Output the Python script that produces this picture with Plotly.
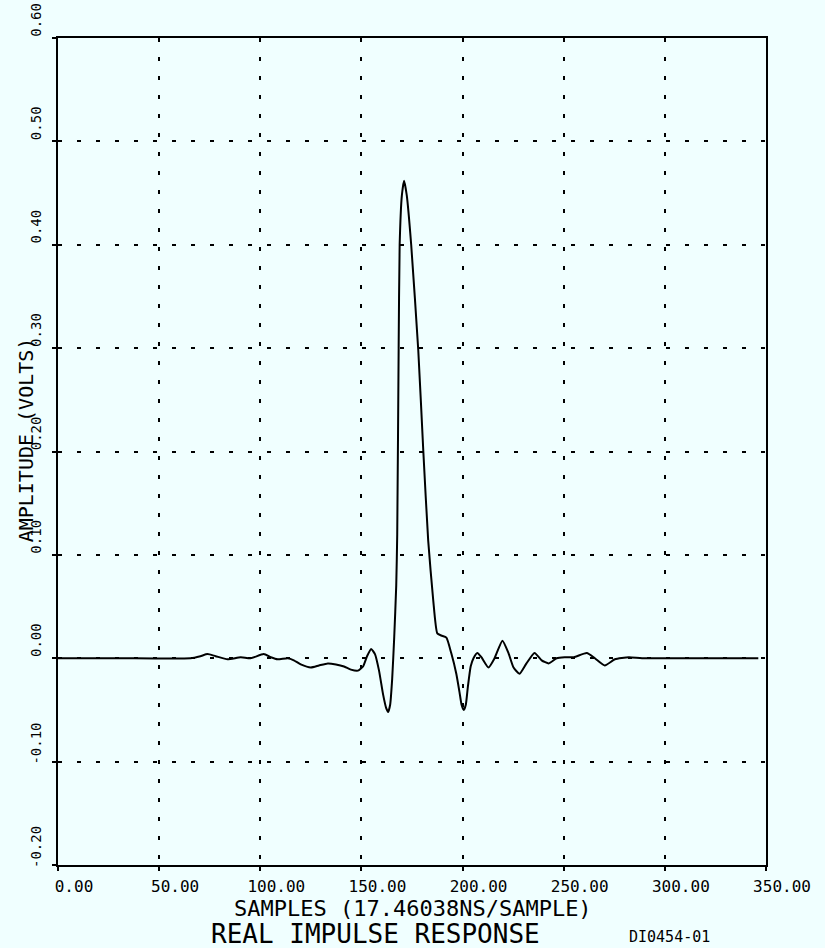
import plotly.graph_objects as go

# Sample index (x) and amplitude in volts (y)
samples = [0, 30, 65.5, 70.4, 73.9, 77.9, 83.8, 90.3, 95.2, 101.7, 105.2, 108.6, 113.6,
           116.6, 120.0, 125.0, 129.0, 133.4, 137.4, 141.4, 144.8, 148.3, 150.8, 152.8,
           154.8, 156.7, 158.7, 160.7, 162.2, 163.2, 164.2, 165.2, 166.2, 167.2, 167.7,
           168.4, 168.9, 170.0, 171.1, 172.4, 174.6, 178.1, 180.6, 183.0, 185.5, 187.5,
           189.5, 192.0, 194.4, 196.9, 198.5, 199.5, 200.6, 201.6, 202.6, 204.0, 205.4,
           207.3, 209.3, 212.8, 215.8, 219.7, 222.7, 225.2, 228.2, 231.6, 235.6, 239.1,
           242.6, 246.5, 250.5, 255.0, 261.4, 265.4, 270.3, 275.3, 282.2, 288.7, 320, 346.2]
amplitude = [0.0, 0.0, 0.0, 0.002, 0.004, 0.002, -0.001, 0.001, 0.0, 0.004, 0.001, -0.001, 0.0,
             -0.002, -0.006, -0.009, -0.007, -0.005, -0.006, -0.008, -0.011, -0.012, -0.008, 0.002,
             0.009, 0.004, -0.012, -0.035, -0.048, -0.052, -0.045, -0.020, 0.020, 0.070, 0.12,
             0.30, 0.40, 0.448, 0.462, 0.448, 0.40, 0.298, 0.20, 0.114, 0.056, 0.024,
             0.022, 0.020, 0.005, -0.015, -0.033, -0.045, -0.050, -0.045, -0.028, -0.008, 0.0,
             0.005, 0.001, -0.009, 0.0, 0.017, 0.005, -0.009, -0.015, -0.005, 0.005, -0.002,
             -0.005, 0.0, 0.001, 0.001, 0.005, 0.0, -0.007, -0.001, 0.001, 0.0, 0.0, 0.0]

x_ticks = [0, 50, 100, 150, 200, 250, 300, 350]
x_tick_labels = ["0.00", "50.00", "100.00", "150.00", "200.00", "250.00", "300.00", "350.00"]
y_ticks = [-0.2, -0.1, 0.0, 0.1, 0.2, 0.3, 0.4, 0.5, 0.6]
y_tick_labels = ["-0.20", "-0.10", "0.00", "0.10", "0.20", "0.30", "0.40", "0.50", "0.60"]

title_text = "REAL IMPULSE RESPONSE"
x_title = "SAMPLES (17.46038NS/SAMPLE)"
y_title = "AMPLITUDE (VOLTS)"
doc_id = "DI0454-01"

FONT = "DejaVu Sans Mono"
BG = "#f0ffff"

fig = go.Figure()
fig.add_trace(go.Scatter(
    x=samples, y=amplitude, mode="lines",
    line=dict(color="black", width=2, shape="spline", smoothing=0.5),
    hoverinfo="skip", showlegend=False,
))

fig.update_layout(
    width=825, height=948,
    margin=dict(l=58, r=59, t=38, b=83),
    paper_bgcolor=BG, plot_bgcolor=BG,
    showlegend=False,
    font=dict(family=FONT, color="black"),
    xaxis=dict(
        range=[0, 350], tickmode="array", tickvals=x_ticks, ticktext=x_tick_labels,
        showline=True, linecolor="black", linewidth=2, mirror=True,
        ticks="outside", ticklen=4, tickwidth=1.5, tickcolor="black",
        showgrid=True, gridcolor="black", gridwidth=1.5, griddash="4px,15px",
        zeroline=False, tickfont=dict(family=FONT, size=16),
        ticklabelshift=16, ticklabelstandoff=2, automargin=False,
    ),
    yaxis=dict(
        range=[-0.2, 0.6], tickmode="array", tickvals=y_ticks, ticktext=y_tick_labels,
        showline=True, linecolor="black", linewidth=2, mirror=True,
        ticks="outside", ticklen=4, tickwidth=1.5, tickcolor="black",
        showgrid=True, gridcolor="black", gridwidth=1.5, griddash="4px,15px",
        zeroline=False, tickangle=-90, tickfont=dict(family=FONT, size=14),
        ticklabelshift=-16, ticklabelstandoff=5, automargin=False,
    ),
    annotations=[
        dict(text=x_title, xref="paper", yref="paper", x=0.501, y=-0.053,
             xanchor="center", yanchor="middle", showarrow=False,
             font=dict(family=FONT, size=22)),
        dict(text=y_title, xref="paper", yref="paper", x=-0.046, y=0.514,
             xanchor="center", yanchor="middle", showarrow=False, textangle=-90,
             font=dict(family=FONT, size=20)),
        dict(text=title_text, xref="paper", yref="paper", x=0.448, y=-0.083,
             xanchor="center", yanchor="middle", showarrow=False,
             font=dict(family=FONT, size=26)),
        dict(text=doc_id, xref="paper", yref="paper", x=0.864, y=-0.087,
             xanchor="center", yanchor="middle", showarrow=False,
             font=dict(family=FONT, size=15)),
    ],
)

fig.write_html(
    "out.html",
    config={"displayModeBar": False},
    post_script="document.body.style.margin='0';document.body.style.background='#f0ffff';",
)
